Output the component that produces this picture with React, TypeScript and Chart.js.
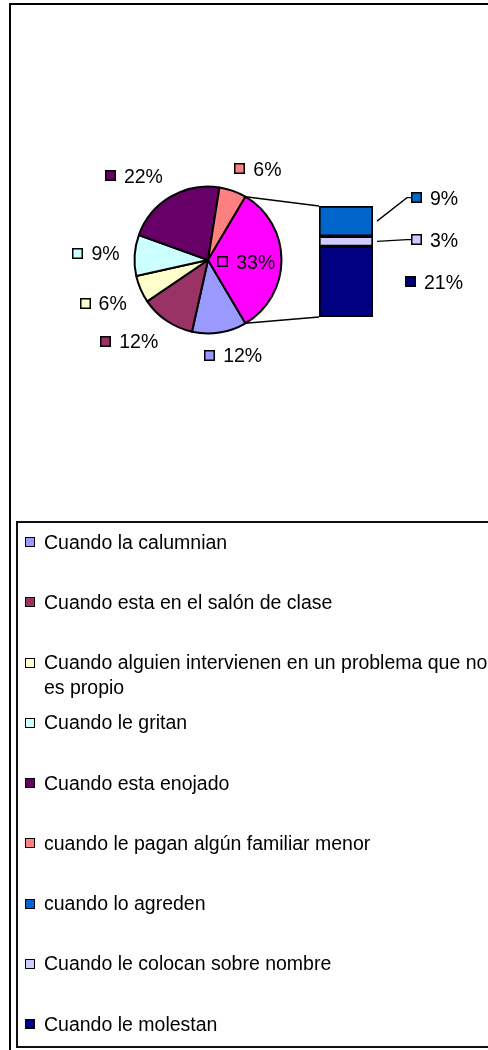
import React, { useEffect, useRef } from "react";
import { Chart, registerables } from "chart.js";

Chart.register(...registerables);

// ---- data ----
const pieCategories = [
  "Cuando la calumnian",
  "Cuando esta en el salón de clase",
  "Cuando alguien intervienen en un problema que no es propio",
  "Cuando le gritan",
  "Cuando esta enojado",
  "cuando le pagan algún familiar menor",
];
const pieValues = [12, 12, 6, 9, 22, 6];
const pieColors = ["#9999FF", "#993366", "#FFFFCC", "#CCFFFF", "#660066", "#FF8080"];

const otherLabel = "Otros";
const otherColor = "#FF00FF";

const barCategories = ["cuando lo agreden", "Cuando le colocan sobre nombre", "Cuando le molestan"];
const barValues = [9, 3, 21];
const barColors = ["#0066CC", "#CCCCFF", "#000080"];

// ---- helpers ----
const FONT_FAMILY = '"Liberation Sans", Arial, sans-serif';
const FONT_PX = 19.5;
const FONT = `${FONT_PX}px ${FONT_FAMILY}`;

const sum = (a: number[]) => a.reduce((s, v) => s + v, 0);
const otherValue = sum(barValues);
const grandTotal = sum(pieValues) + otherValue;
const pct = (v: number) => `${Math.round((v / grandTotal) * 100)}%`;
const clamp = (v: number, lo: number, hi: number) => Math.max(lo, Math.min(hi, v));

function tagWidth(ctx: CanvasRenderingContext2D, text: string) {
  ctx.font = FONT;
  return 19 + ctx.measureText(text).width;
}

function drawTag(ctx: CanvasRenderingContext2D, left: number, cy: number, color: string, text: string) {
  ctx.save();
  const sx = Math.round(left);
  const sy = Math.round(cy - 5.5);
  ctx.fillStyle = color;
  ctx.fillRect(sx, sy, 11, 11);
  ctx.strokeStyle = "#000";
  ctx.lineWidth = 1.5;
  ctx.strokeRect(sx + 0.75, sy + 0.75, 9.5, 9.5);
  ctx.font = FONT;
  ctx.fillStyle = "#000";
  ctx.textBaseline = "alphabetic";
  ctx.textAlign = "left";
  ctx.fillText(text, left + 19, cy + 0.358 * FONT_PX);
  ctx.restore();
}

export default function App() {
  const pieRef = useRef<HTMLCanvasElement | null>(null);
  const barRef = useRef<HTMLCanvasElement | null>(null);

  useEffect(() => {
    if (!pieRef.current || !barRef.current) return;

    const allPieValues = [...pieValues, otherValue];
    const allPieColors = [...pieColors, otherColor];

    const pieLabelsPlugin = {
      id: "pieLabels",
      afterDatasetsDraw(chart: any) {
        const ctx: CanvasRenderingContext2D = chart.ctx;
        const meta = chart.getDatasetMeta(0);
        const n = meta.data.length;
        meta.data.forEach((arc: any, i: number) => {
          const { x, y, startAngle, endAngle, outerRadius } = arc.getProps(
            ["x", "y", "startAngle", "endAngle", "outerRadius"],
            true
          );
          const mid = (startAngle + endAngle) / 2;
          const text = pct(allPieValues[i]);
          const w = tagWidth(ctx, text);
          let cx: number;
          let cy: number;
          if (i === n - 1) {
            cx = x + outerRadius * 0.52 * Math.cos(mid);
            cy = y + outerRadius * 0.52 * Math.sin(mid) + 2;
          } else {
            const D = outerRadius + 15;
            const ax = x + D * Math.cos(mid);
            const ay = y + D * Math.sin(mid);
            const fx = clamp(Math.cos(mid) * 2.5, -1, 1);
            const fy = clamp(Math.sin(mid) * 2.5, -1, 1);
            cx = ax + (fx * w) / 2;
            cy = ay + fy * 8;
          }
          drawTag(ctx, cx - w / 2, cy, allPieColors[i], text);
        });
      },
    };

    const pieChart = new Chart(pieRef.current, {
      type: "pie",
      data: {
        labels: [...pieCategories, otherLabel],
        datasets: [
          {
            data: allPieValues,
            backgroundColor: allPieColors,
            borderColor: "#000",
            borderWidth: 2,
          },
        ],
      },
      options: {
        animation: false,
        responsive: false,
        radius: 73.5,
        rotation: 90 + (otherValue / grandTotal) * 180,
        layout: { padding: { left: 135, right: 207, top: 187, bottom: 187 } },
        plugins: { legend: { display: false }, tooltip: { enabled: false } },
      } as any,
      plugins: [pieLabelsPlugin],
    });

    // bar datasets: bottom first
    const order = barValues.map((_, i) => i).reverse();

    const barLabelsPlugin = {
      id: "barLabels",
      afterDatasetsDraw(chart: any) {
        const ctx: CanvasRenderingContext2D = chart.ctx;
        let prevY = Infinity;
        let barLeft = 0;
        let barTop = Infinity;
        let barBottom = -Infinity;
        order.forEach((srcIdx, j) => {
          const el = chart.getDatasetMeta(j).data[0];
          const { x, y, base, width } = el.getProps(["x", "y", "base", "width"], true);
          const top = Math.min(y, base);
          const bottom = Math.max(y, base);
          barLeft = x - width / 2;
          barTop = Math.min(barTop, top);
          barBottom = Math.max(barBottom, bottom);
          const right = x + width / 2;
          const segCy = (top + bottom) / 2;
          const labelCy = Math.min(segCy, prevY - 42);
          prevY = labelCy;
          const leader = Math.abs(labelCy - segCy) > 2 || bottom - top < 20;
          const left = right + (leader ? 38 : 32);
          if (leader) {
            ctx.save();
            ctx.strokeStyle = "#000";
            ctx.lineWidth = 1.3;
            ctx.beginPath();
            ctx.moveTo(right + 4, segCy);
            ctx.lineTo(left - 4, labelCy);
            ctx.lineTo(left, labelCy);
            ctx.stroke();
            ctx.restore();
          }
          drawTag(ctx, left, labelCy, barColors[srcIdx], pct(barValues[srcIdx]));
        });

        // connectors from the pie's "other" slice to the bar
        const pmeta = pieChart.getDatasetMeta(0);
        const arc: any = pmeta.data[pmeta.data.length - 1];
        const { x, y, startAngle, endAngle, outerRadius } = arc.getProps(
          ["x", "y", "startAngle", "endAngle", "outerRadius"],
          true
        );
        ctx.save();
        ctx.strokeStyle = "#000";
        ctx.lineWidth = 1.3;
        ctx.beginPath();
        ctx.moveTo(x + outerRadius * Math.cos(startAngle), y + outerRadius * Math.sin(startAngle));
        ctx.lineTo(barLeft, barTop);
        ctx.moveTo(x + outerRadius * Math.cos(endAngle), y + outerRadius * Math.sin(endAngle));
        ctx.lineTo(barLeft, barBottom);
        ctx.stroke();
        ctx.restore();
      },
    };

    const barChart = new Chart(barRef.current, {
      type: "bar",
      data: {
        labels: [otherLabel],
        datasets: order.map((i) => ({
          label: barCategories[i],
          data: [barValues[i]],
          backgroundColor: barColors[i],
          borderColor: "#000",
          borderWidth: 2,
          borderSkipped: false,
          barPercentage: 1,
          categoryPercentage: 1,
        })),
      },
      options: {
        animation: false,
        responsive: false,
        layout: { padding: { left: 319, right: 115, top: 206, bottom: 203 } },
        scales: {
          x: { stacked: true, display: false },
          y: { stacked: true, display: false, min: 0, max: otherValue },
        },
        plugins: { legend: { display: false }, tooltip: { enabled: false } },
      } as any,
      plugins: [barLabelsPlugin],
    });

    return () => {
      barChart.destroy();
      pieChart.destroy();
    };
  }, []);

  const legendItems = [
    ...pieCategories.map((c, i) => ({ label: c, color: pieColors[i] })),
    ...barCategories.map((c, i) => ({ label: c, color: barColors[i] })),
  ];

  return (
    <div
      style={{
        position: "fixed",
        left: 0,
        top: 0,
        width: 488,
        height: 1050,
        overflow: "hidden",
        background: "#fff",
        fontFamily: FONT_FAMILY,
        fontSize: FONT_PX,
        color: "#000",
      }}
    >
      <div
        style={{
          position: "absolute",
          left: 9,
          top: 3,
          width: 700,
          height: 1200,
          border: "2px solid #000",
          boxSizing: "border-box",
        }}
      />
      <canvas ref={pieRef} width={488} height={520} style={{ position: "absolute", left: 0, top: 0 }} />
      <canvas ref={barRef} width={488} height={520} style={{ position: "absolute", left: 0, top: 0 }} />
      <div
        style={{
          position: "absolute",
          left: 16,
          top: 521,
          width: 700,
          height: 527,
          border: "2px solid #111",
          boxSizing: "border-box",
        }}
      >
        {legendItems.map((it, i) => (
          <div
            key={i}
            style={{
              position: "absolute",
              left: 7,
              top: 6.7 + i * 60.25,
              display: "flex",
              alignItems: "flex-start",
              lineHeight: "25px",
            }}
          >
            <span
              style={{
                display: "inline-block",
                width: 10,
                height: 10,
                marginTop: 7.5,
                background: it.color,
                border: "1.5px solid #000",
                boxSizing: "border-box",
                flex: "none",
              }}
            />
            <span style={{ marginLeft: 9, width: 455, display: "inline-block" }}>{it.label}</span>
          </div>
        ))}
      </div>
    </div>
  );
}
